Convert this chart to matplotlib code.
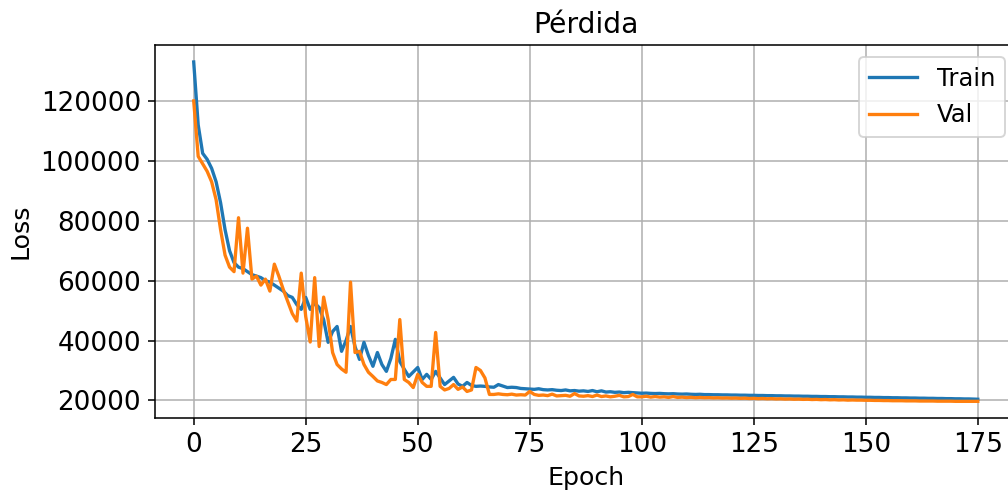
import matplotlib
matplotlib.use("Agg")
import matplotlib.pyplot as plt

# per-epoch loss history (176 epochs)
train_loss = [
    133000, 112000, 102500, 100500, 97500, 93000, 86000, 77000, 70000, 66000,
    64500, 64000, 63000, 62000, 61500, 61000, 60000, 59500, 58500, 57500,
    56500, 55000, 54400, 52000, 50400, 54400, 50400, 52500, 51000, 47000,
    39400, 43000, 44700, 36400, 40000, 44700, 38000, 33700, 39400, 35000,
    31400, 36000, 32000, 29700, 34000, 40400, 33000, 30400, 28000, 29500,
    31000, 27000, 28700, 27000, 29700, 27500, 25300, 26500, 27700, 25500,
    24700, 26000, 25000, 24700, 24800, 24700, 24500, 24400, 25300, 24800,
    24300, 24400, 24300, 24000, 23900, 23800, 23700, 23900, 23600, 23500,
    23600, 23400, 23300, 23500, 23200, 23300, 23100, 23200, 23000, 23300,
    22900, 23200, 22800, 22900, 22700, 22800, 22600, 22700, 22600, 22500,
    22400, 22450, 22350, 22300, 22350, 22250, 22200, 22250, 22150, 22100,
    22150, 22050, 22000, 22050, 21950, 21950, 21900, 21900, 21850, 21850,
    21800, 21800, 21750, 21750, 21700, 21700, 21650, 21650, 21600, 21600,
    21550, 21550, 21500, 21500, 21450, 21450, 21400, 21400, 21350, 21350,
    21300, 21300, 21250, 21250, 21200, 21200, 21150, 21150, 21100, 21100,
    21050, 21050, 21000, 21000, 20950, 20950, 20900, 20900, 20850, 20850,
    20800, 20800, 20750, 20750, 20700, 20700, 20650, 20650, 20600, 20600,
    20550, 20550, 20500, 20500, 20450, 20400,
]
val_loss = [
    120000, 101500, 99000, 96500, 93000, 87000, 77000, 68500, 64500, 63000,
    81000, 62500, 77500, 60500, 61500, 58500, 60500, 56500, 65500, 61500,
    57000, 53000, 49000, 46500, 62500, 48000, 39500, 61000, 38000, 54500,
    47000, 36000, 32000, 30500, 29400, 59500, 36000, 36400, 32000, 29400,
    28000, 26500, 26000, 25300, 27000, 27000, 47000, 27000, 26000, 24300,
    28700, 26000, 24700, 24700, 42700, 24700, 23500, 24000, 25300, 23700,
    24500, 23000, 23500, 31000, 30000, 27500, 22000, 22000, 22200, 22000,
    21900, 22100, 21800, 21900, 21800, 23000, 22000, 21700, 21800, 21600,
    22100, 21500, 21600, 21700, 21400, 22300, 21500, 21400, 21600, 21300,
    21800, 21300, 21500, 21200, 21400, 21700, 21200, 21300, 22000, 21200,
    21200, 21400, 21100, 21300, 21100, 21200, 21000, 21300, 21000, 21100,
    20950, 21050, 20900, 21000, 20900, 20950, 20850, 20900, 20800, 20850,
    20750, 20800, 20700, 20750, 20650, 20700, 20600, 20650, 20550, 20600,
    20500, 20550, 20450, 20500, 20400, 20450, 20350, 20400, 20300, 20350,
    20250, 20300, 20200, 20250, 20150, 20200, 20100, 20150, 20100, 20100,
    20050, 20050, 20000, 20000, 19950, 19950, 19900, 19900, 19900, 19850,
    19850, 19850, 19800, 19800, 19800, 19800, 19750, 19750, 19750, 19750,
    19700, 19700, 19700, 19700, 19700, 19700,
]
epochs = list(range(len(train_loss)))

plt.rcParams["xtick.labelsize"] = 13.5
plt.rcParams["ytick.labelsize"] = 13.5

fig = plt.figure(figsize=(1008 / 140, 494 / 140), dpi=140)
# axes run slightly past the right edge of the canvas
ax = fig.add_axes([154.5 / 1008, 1 - 418.3 / 494, 862.5 / 1008, (418.3 - 45) / 494])

ax.plot(epochs, train_loss, label="Train", lw=1.7)
ax.plot(epochs, val_loss, label="Val", lw=1.7)
ax.set_title("Pérdida", fontsize=14.5)
ax.set_xlabel("Epoch", fontsize=13)
ax.set_ylabel("Loss", fontsize=13)
ax.set_xticks([0, 25, 50, 75, 100, 125, 150, 175])
ax.legend(loc="upper right", fontsize=12.5)
ax.grid(True)

fig.savefig("out.png", dpi=140)
